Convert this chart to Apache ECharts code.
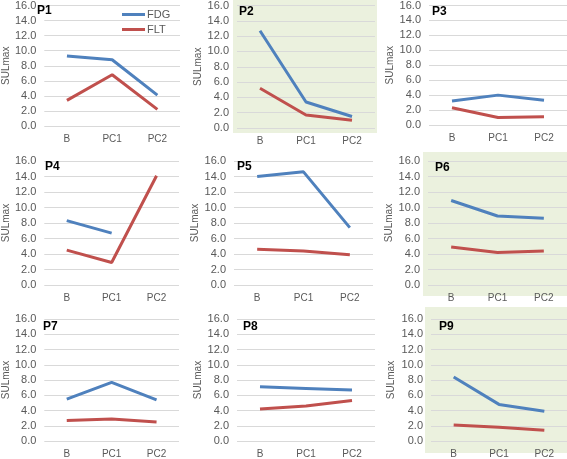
<!DOCTYPE html>
<html><head><meta charset="utf-8">
<script src="https://cdn.jsdelivr.net/npm/echarts@6/dist/echarts.min.js"></script>
<style>html,body{margin:0;padding:0;background:#fff}#c{width:567px;height:459px}</style>
</head><body><div id="c"></div>
<script>
const categories = ['B', 'PC1', 'PC2'];
const panels = ['P1','P2','P3','P4','P5','P6','P7','P8','P9'];
const fdg = [
  [9.3, 8.8, 4.1],
  [12.7, 3.4, 1.5],
  [3.2, 4.0, 3.3],
  [8.3, 6.7, null],
  [14.0, 14.6, 7.4],
  [10.9, 8.9, 8.6],
  [5.5, 7.7, 5.4],
  [7.1, 6.9, 6.7],
  [8.4, 4.8, 3.9]
];
const flt = [
  [3.4, 6.8, 2.2],
  [5.2, 1.7, 1.0],
  [2.3, 1.0, 1.1],
  [4.5, 2.9, 14.1],
  [4.6, 4.4, 3.9],
  [4.9, 4.2, 4.4],
  [2.7, 2.9, 2.5],
  [4.2, 4.6, 5.3],
  [2.1, 1.8, 1.4]
];
const yTicks = [0, 2, 4, 6, 8, 10, 12, 14, 16];
const yName = 'SULmax';
const seriesNames = ['FDG', 'FLT'];

// layout
const grids = [
  {left:38, top:4, width:142, height:122},
  {left:237, top:4, width:138, height:124},
  {left:429, top:5, width:138, height:120},
  {left:39, top:161, width:140, height:124},
  {left:234, top:161, width:139, height:124},
  {left:428, top:161, width:139, height:124},
  {left:39, top:319, width:140, height:125},
  {left:237, top:319, width:138, height:125},
  {left:431, top:319, width:137, height:125}
];
const nameGaps = [33, 34, 31, 33, 32, 33, 33, 34, 35];
const titlePos = [[37,5],[239,6],[432,6],[45,161],[237,161],[435,162],[43,321],[243,321],[439,321]];
const greenRects = [
  {x:233, y:0, w:144, h:133},
  {x:423, y:152, w:144, h:144},
  {x:425, y:307, w:142, h:146}
];
const BLUE = '#4f81bd', RED = '#c0504d';
const labelColor = '#595959';
const FONT = 'Liberation Sans, Arial, sans-serif';

const option = {
  animation: false,
  textStyle: {fontFamily: FONT},
  grid: grids.map(g => Object.assign({containLabel: false}, g)),
  title: panels.map((p, i) => ({
    text: p, left: titlePos[i][0], top: titlePos[i][1],
    textStyle: {fontSize: 12, fontWeight: 'bold', color: '#000', fontFamily: FONT},
    padding: 0
  })),
  legend: {
    data: seriesNames, orient: 'vertical', left: 117, top: 4, itemGap: 4,
    itemWidth: 23, itemHeight: 3, icon: 'rect',
    textStyle: {fontSize: 11, color: labelColor, padding: [0,0,0,-3]}
  },
  graphic: greenRects.map(r => ({
    type: 'rect', z: -10, silent: true,
    shape: {x: r.x, y: r.y, width: r.w, height: r.h},
    style: {fill: '#ebf1de'}
  })),
  xAxis: grids.map((g, i) => ({
    type: 'category', gridIndex: i, data: categories, boundaryGap: true,
    axisLine: {show: false}, axisTick: {show: false},
    axisLabel: {color: labelColor, fontSize: 10, margin: 8}
  })),
  yAxis: grids.map((g, i) => ({
    type: 'value', gridIndex: i, min: yTicks[0], max: yTicks[yTicks.length-1], interval: 2,
    name: yName, nameLocation: 'middle', nameGap: nameGaps[i], nameRotate: 90,
    nameTextStyle: {fontSize: 10, color: labelColor},
    axisLine: {show: false}, axisTick: {show: false},
    axisLabel: {color: labelColor, fontSize: 11, margin: 8, formatter: v => v.toFixed(1)},
    splitLine: {lineStyle: {color: '#d9d9d9', width: 1}}
  })),
  series: []
};
for (let i = 0; i < 9; i++) {
  option.series.push({
    name: 'FDG', type: 'line', xAxisIndex: i, yAxisIndex: i, data: fdg[i],
    symbol: 'none', connectNulls: false, color: BLUE,
    lineStyle: {color: BLUE, width: 3}
  });
  option.series.push({
    name: 'FLT', type: 'line', xAxisIndex: i, yAxisIndex: i, data: flt[i],
    symbol: 'none', connectNulls: false, color: RED,
    lineStyle: {color: RED, width: 3}
  });
}
const chart = echarts.init(document.getElementById('c'), null, {renderer: 'canvas'});
chart.setOption(option);
</script>
</body></html>
